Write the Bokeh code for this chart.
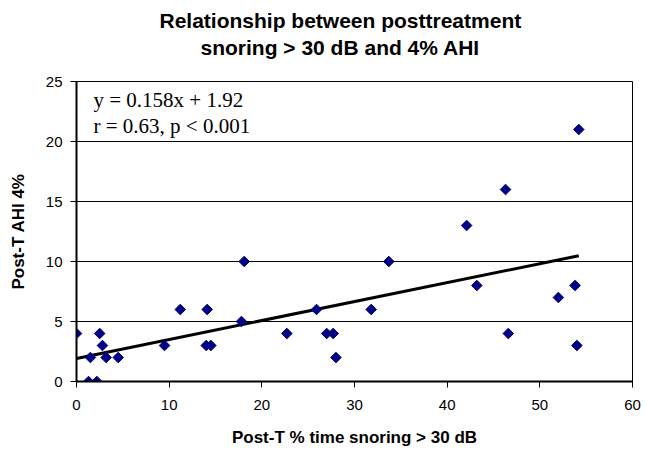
import math
from bokeh.plotting import figure
from bokeh.models import FixedTicker, Range1d, Title, Label
from bokeh.embed import file_html
from bokeh.resources import INLINE

# Data
snoring_pct = [0.0, 1.5, 1.3, 2.2, 2.5, 2.8, 3.2, 4.5, 9.5, 11.2, 14.1, 14.0, 14.5,
               17.8, 18.1, 22.7, 25.9, 27.0, 27.7, 28.0, 31.8, 33.7, 42.1, 43.2,
               46.3, 46.6, 52.0, 53.8, 54.0, 54.2]
ahi_4pct = [4, 2, 0, 0, 4, 3, 2, 2, 3, 6, 6, 3, 3,
            5, 10, 4, 6, 4, 4, 2, 6, 10, 13, 8,
            16, 4, 7, 8, 3, 21]
slope = 0.158
intercept = 1.92
x_ticks = [0, 10, 20, 30, 40, 50, 60]
y_ticks = [0, 5, 10, 15, 20, 25]
title_lines = ["Relationship between posttreatment", "snoring > 30 dB and 4% AHI"]
equation_lines = ["y = 0.158x + 1.92", "r = 0.63, p < 0.001"]

p = figure(width=645, height=449, output_backend="svg", toolbar_location=None,
           x_range=Range1d(0, 60), y_range=Range1d(0, 25),
           min_border_left=76, min_border_right=13, min_border_top=81, min_border_bottom=68)
p.background_fill_color = "white"
p.border_fill_color = "white"
p.outline_line_color = "black"
p.outline_line_width = 1

# Title: two lines, stacked above the frame (innermost first), offset to centre like the reference
title_font = dict(text_font="Liberation Sans", text_font_style="bold",
                  text_font_size="21px", text_color="black")
p.title.text = title_lines[0]
p.title.align = "left"
p.title.offset = 83
p.title.standoff = 4
p.title.text_font = "Liberation Sans"
p.title.text_font_style = "bold"
p.title.text_font_size = "21px"
p.title.text_color = "black"
# spacer between frame and title
p.add_layout(Title(text=" ", align="left", standoff=0, text_font="Liberation Sans",
                   text_font_size="19px"), "above")
p.add_layout(Title(text=title_lines[1], align="left", offset=124, standoff=0, **title_font),
             "above")

# Grid
p.xgrid.grid_line_color = None
p.ygrid.grid_line_color = "black"
p.ygrid.grid_line_width = 1
p.ygrid.ticker = FixedTicker(ticks=y_ticks)

# Axes
p.xaxis.ticker = FixedTicker(ticks=x_ticks)
p.yaxis.ticker = FixedTicker(ticks=y_ticks)
for ax in (p.xaxis[0], p.yaxis[0]):
    ax.axis_line_color = "black"
    ax.axis_line_width = 2
    ax.major_tick_line_color = "black"
    ax.major_tick_line_width = 1
    ax.major_tick_in = 0
    ax.major_tick_out = 6
    ax.minor_tick_line_color = None
    ax.major_label_text_font = "Liberation Sans"
    ax.major_label_text_font_size = "15px"
    ax.major_label_text_color = "black"
    ax.axis_label_text_font = "Liberation Sans"
    ax.axis_label_text_font_style = "bold"
    ax.axis_label_text_font_size = "17px"
    ax.axis_label_text_color = "black"

p.xaxis.axis_label = "Post-T % time snoring > 30 dB"
p.xaxis.major_label_standoff = 12
p.xaxis.axis_label_standoff = 15
p.yaxis.axis_label = "Post-T AHI 4%"
p.yaxis.major_label_standoff = 8
p.yaxis.axis_label_standoff = 15

# Trend line
x_fit = [0, max(snoring_pct)]
y_fit = [intercept + slope * v for v in x_fit]
p.line(x_fit, y_fit, line_color="black", line_width=3)

# Points
p.scatter(snoring_pct, ahi_4pct, marker="square", size=7.5, angle=math.pi / 4,
          fill_color="#000080", line_color="#000080")

# Equation annotation
p.add_layout(Label(x=17, y=282, x_units="screen", y_units="screen", text=equation_lines[0],
                   text_align="left", text_baseline="middle", text_font="Liberation Serif",
                   text_font_size="21px", text_color="black"))
p.add_layout(Label(x=17, y=256, x_units="screen", y_units="screen", text=equation_lines[1],
                   text_align="left", text_baseline="middle", text_font="Liberation Serif",
                   text_font_size="21px", text_color="black"))

open("out.html", "w").write(file_html(p, INLINE))
